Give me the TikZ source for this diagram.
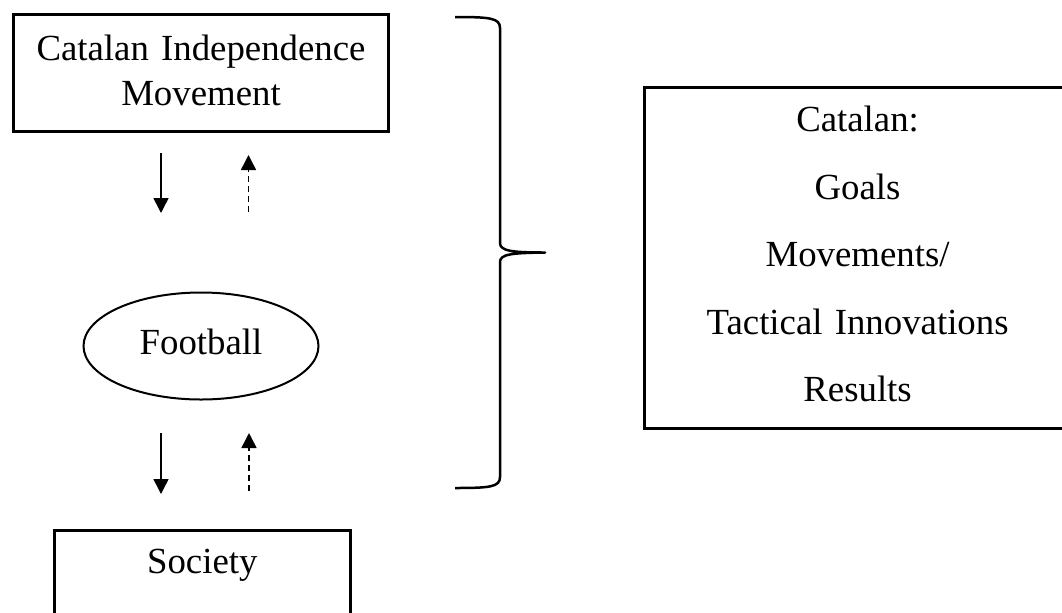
\documentclass[tikz,border=0pt]{standalone}
\usepackage{fontspec}
\setmainfont{Liberation Serif}
\usetikzlibrary{arrows.meta,shapes.geometric}
\begin{document}
\begin{tikzpicture}[x=0.5pt,y=-0.5pt,
  box/.style={draw,line width=1.5pt,rectangle,inner sep=0pt,align=center},
  txt/.style={font=\fontsize{18.4}{22.5}\selectfont},
  txtwide/.style={font=\fontsize{18.4}{33.75}\selectfont},
  oval/.style={draw,ellipse,line width=1pt,inner sep=0pt,font=\fontsize{18.4}{22.5}\selectfont},
  solidarrow/.style={line width=0.75pt,-{Triangle[length=7.5pt,width=7.5pt]}},
  dasharrow/.style={line width=0.75pt,dash pattern=on 3pt off 2pt,-{Triangle[length=7.5pt,width=7.5pt]}},
  bracestyle/.style={line width=1.25pt,line join=round}
]
\useasboundingbox (0,0) rectangle (1062,612);
\clip (0,0) rectangle (1062,612);

% top box
\node[box,txt,text width=187.5pt,text height=22.9pt,text depth=35.75pt] (cim) at (201,72.85)
  {Catalan Independence\\Movement};

% football ellipse
\node[oval,minimum width=117.5pt,minimum height=53.5pt,text height=12.5pt,text depth=4.5pt] (foot) at (201,346) {Football};

% society box
\node[box,txt,text width=148.25pt,text height=21.25pt,text depth=38.5pt] (soc) at (202.3,590.25)
  {Society};

% right box
\node[box,txtwide,text width=213.4pt,text height=22.35pt,text depth=148.4pt] (cat) at (857.6,257.75)
  {Catalan:\\Goals\\Movements/\\Tactical Innovations\\Results};

% arrow end points
\coordinate (d1s) at (161,153);
\coordinate (d1e) at (161,213);
\coordinate (u1s) at (248.5,212);
\coordinate (u1e) at (248.5,155);
\coordinate (d2s) at (161,433);
\coordinate (d2e) at (161,494);
\coordinate (u2s) at (249,491);
\coordinate (u2e) at (249,433);

\draw[solidarrow] (d1s) -- (d1e);
\draw[dasharrow] (u1s) -- (u1e);
\draw[solidarrow] (d2s) -- (d2e);
\draw[dasharrow] (u2s) -- (u2e);

% brace
\coordinate (bt) at (455,17);
\coordinate (btip) at (545,252.5);
\coordinate (bb) at (455,488);
\draw[bracestyle] (bt) .. controls (490,17) and (500,18) .. (500,28)
  -- (500,243) .. controls (500,251) and (512,252.5) .. (btip)
  .. controls (512,253) and (500,254) .. (500,262)
  -- (500,477) .. controls (500,487) and (490,488) .. (bb);
\end{tikzpicture}
\end{document}
